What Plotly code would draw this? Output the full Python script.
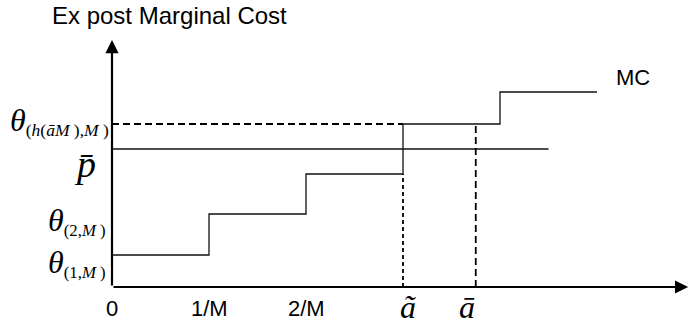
import plotly.graph_objects as go

# ---- data (x in units of 1/M, y in arbitrary cost units) ----
mc_breaks = [0, 1, 2, 3, 4, 5]
mc_levels = [32, 73, 113, 163, 195, 195]
p_bar = 138
p_bar_end = 4.5
a_tilde = 3.0
a_bar = 3.75
theta_h = 163
theta_a_tilde = 113
x_axis_end = 5.94
y_axis_top = 247

x_tick_vals = [0, 1, 2]
x_tick_text = ["0", "1/M", "2/M"]

SANS = "Liberation Sans, Arial, sans-serif"
SERIF = "Liberation Serif, Times New Roman, serif"
TH = "<span style='font-size:32px'><i>θ</i></span>"

fig = go.Figure()

# MC step curve
fig.add_trace(go.Scatter(x=mc_breaks, y=mc_levels, mode="lines", line_shape="hv",
                         line=dict(color="#111111", width=1.3), hoverinfo="skip"))
# p-bar horizontal line
fig.add_trace(go.Scatter(x=[0, p_bar_end], y=[p_bar, p_bar], mode="lines",
                         line=dict(color="#111111", width=1.3), hoverinfo="skip"))
# dashed horizontal at theta_h up to a_tilde
fig.add_trace(go.Scatter(x=[0, a_tilde], y=[theta_h, theta_h], mode="lines",
                         line=dict(color="black", width=1.8, dash="7px,4px"), hoverinfo="skip"))
# dotted vertical at a_tilde
fig.add_trace(go.Scatter(x=[a_tilde, a_tilde], y=[0, theta_a_tilde], mode="lines",
                         line=dict(color="black", width=1.8, dash="4px,3px"), hoverinfo="skip"))
# dashed vertical at a_bar
fig.add_trace(go.Scatter(x=[a_bar, a_bar], y=[0, theta_h], mode="lines",
                         line=dict(color="black", width=1.8, dash="7px,4px"), hoverinfo="skip"))

ann = []
# axes with arrows
ann.append(dict(x=x_axis_end, y=0, ax=0, ay=0, axref="x", ayref="y", xref="x", yref="y",
                text="", showarrow=True, arrowhead=2, arrowsize=1.2, arrowwidth=2.2, arrowcolor="black"))
ann.append(dict(x=0, y=y_axis_top, ax=0, ay=0, axref="x", ayref="y", xref="x", yref="y",
                text="", showarrow=True, arrowhead=2, arrowsize=1.2, arrowwidth=2.2, arrowcolor="black"))

# title
ann.append(dict(x=-0.64, y=272, xref="x", yref="y", text="Ex post Marginal Cost", showarrow=False,
                xanchor="left", yanchor="middle", font=dict(family=SANS, size=24, color="black")))
# MC label
ann.append(dict(x=5.37, y=210, xref="x", yref="y", text="MC", showarrow=False,
                xanchor="center", yanchor="middle", font=dict(family=SANS, size=22, color="black")))

# x tick labels
for v, t in zip(x_tick_vals, x_tick_text):
    ann.append(dict(x=v, y=-21, xref="x", yref="y", text=t, showarrow=False,
                    xanchor="center", yanchor="middle", font=dict(family=SANS, size=22, color="black")))
ann.append(dict(x=a_tilde, y=-20, xref="x", yref="y", text="<i>ã</i>", showarrow=False, xshift=5,
                xanchor="center", yanchor="middle", font=dict(family=SERIF, size=32, color="black")))
ann.append(dict(x=a_bar, y=-20, xref="x", yref="y", text="<i>a\u0304</i>", showarrow=False, xshift=-9,
                xanchor="center", yanchor="middle", font=dict(family=SERIF, size=32, color="black")))

# y labels
ann.append(dict(x=0, y=theta_h + 3, xref="x", yref="y", xshift=-1,
                text=TH + "<sub>(<i>h</i>(<i>a\u0304M</i> ),<i>M</i> )</sub>", showarrow=False,
                xanchor="right", yanchor="middle", font=dict(family=SERIF, size=25, color="black")))
ann.append(dict(x=0, y=p_bar - 15, xref="x", yref="y", xshift=-14,
                text="<i>p\u0304</i>", showarrow=False,
                xanchor="right", yanchor="middle", font=dict(family=SERIF, size=38, color="black")))
ann.append(dict(x=0, y=mc_levels[1] - 7, xref="x", yref="y", xshift=-4,
                text=TH + "<sub>(2,<i>M</i> )</sub>", showarrow=False,
                xanchor="right", yanchor="middle", font=dict(family=SERIF, size=24, color="black")))
ann.append(dict(x=0, y=mc_levels[0] - 8, xref="x", yref="y", xshift=-4,
                text=TH + "<sub>(1,<i>M</i> )</sub>", showarrow=False,
                xanchor="right", yanchor="middle", font=dict(family=SERIF, size=24, color="black")))

fig.update_layout(
    width=689, height=329,
    margin=dict(l=0, r=0, t=0, b=0),
    paper_bgcolor="white", plot_bgcolor="white",
    showlegend=False,
    annotations=ann,
    xaxis=dict(range=[-112 / 97, 577 / 97], visible=False, fixedrange=True),
    yaxis=dict(range=[-42, 287], visible=False, fixedrange=True),
)

fig.write_html("out.html", config={"displayModeBar": False},
               post_script="document.body.style.margin='0';document.body.style.overflow='hidden';")
